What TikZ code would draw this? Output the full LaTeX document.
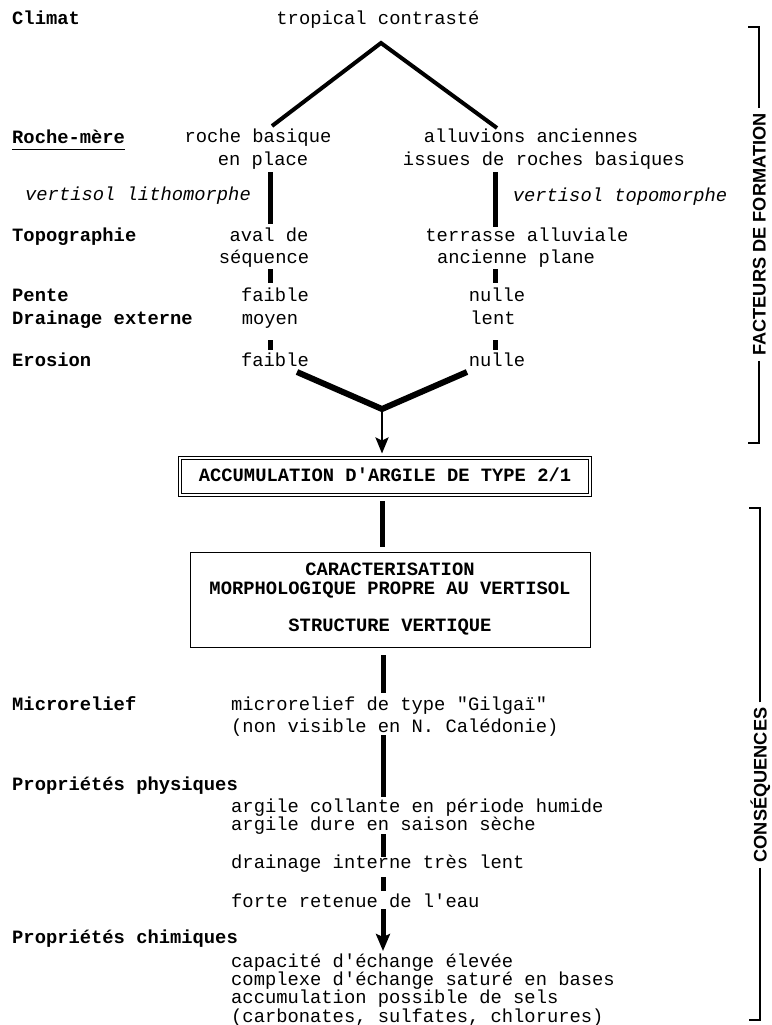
\documentclass[tikz,border=0pt]{standalone}
\usepackage{fontspec}
\setmonofont{Liberation Mono}
\newfontfamily\brkfont{Liberation Sans}
\usetikzlibrary{arrows.meta}
\begin{document}
\begin{tikzpicture}[x=1pt,y=-1pt,
  txt/.style={inner sep=0pt, text height=10pt, text depth=0pt,
    font=\ttfamily\fontsize{18.8}{19}\selectfont},
  ital/.style={txt, font=\ttfamily\itshape\fontsize{18.8}{19}\selectfont},
  lbl/.style={txt, anchor=west, font=\ttfamily\bfseries\fontsize{18.8}{19}\selectfont},
  btxt/.style={txt, anchor=west},
  lam/.style={line width=4pt},
  vee/.style={line width=6pt},
  bar/.style={line width=5pt},
  brkline/.style={line width=2pt},
  brk/.style={inner xsep=5pt, inner ysep=0pt, text height=13pt, text depth=0pt,
    font=\brkfont\bfseries\fontsize{18.2}{19}\selectfont, rotate=90},
  boxfont/.style={font=\ttfamily\bfseries\fontsize{18.8}{19}\selectfont}
]
\fill[white] (0,0) rectangle (771,1025);
\useasboundingbox (0,0) rectangle (771,1025);

% ---------- left labels ----------
\node[lbl] (climat) at (12,20) {Climat};
\node[lbl] (roche) at (12,138) {Roche-mère};
\draw[line width=1.3pt] ([yshift=-6pt]roche.south west) -- ([yshift=-6pt]roche.south east);
\node[lbl] (topo) at (12,236) {Topographie};
\node[lbl] (pente) at (12,296) {Pente};
\node[lbl] (drain) at (12,319) {Drainage externe};
\node[lbl] (eros) at (12,361) {Erosion};

% ---------- top ----------
\node[txt] (trop) at (378,20) {tropical contrasté};
\coordinate (apex) at (381,43);
\coordinate (lfoot) at (272,126);
\coordinate (rfoot) at (497,128);
\draw[lam] (lfoot) -- (apex) -- (rfoot);

% left column
\node[txt] (rb) at (258,137) {roche basique};
\node[txt] (ep) at (263,160) {en place};
\node[ital] (vl) at (138,195) {vertisol lithomorphe};
\node[txt] (aval) at (269,236) {aval de};
\node[txt] (seq) at (264,258) {séquence};
\node[txt] (f1) at (275,296) {faible};
\node[txt] (moyen) at (270,319) {moyen};
\node[txt] (f2) at (275,361) {faible};

% right column
\node[txt] (allu) at (531,137) {alluvions anciennes};
\node[txt] (iss) at (544,160) {issues de roches basiques};
\node[ital] (vt) at (620,196) {vertisol topomorphe};
\node[txt] (terr) at (527,236) {terrasse alluviale};
\node[txt] (anc) at (516,258) {ancienne plane};
\node[txt] (n1) at (497,296) {nulle};
\node[txt] (lent) at (493,319) {lent};
\node[txt] (n2) at (497,361) {nulle};

% bars
\coordinate (la1) at (270,172); \coordinate (lb1) at (270,224);
\coordinate (la2) at (270,269); \coordinate (lb2) at (270,283);
\coordinate (la3) at (270,340); \coordinate (lb3) at (270,350);
\coordinate (ra1) at (495,172); \coordinate (rb1) at (495,227);
\coordinate (ra2) at (495,269); \coordinate (rb2) at (495,283);
\coordinate (ra3) at (495,340); \coordinate (rb3) at (495,350);
\draw[bar] (la1) -- (lb1);
\draw[bar] (la2) -- (lb2);
\draw[bar] (la3) -- (lb3);
\draw[bar] (ra1) -- (rb1);
\draw[bar] (ra2) -- (rb2);
\draw[bar] (ra3) -- (rb3);

% V and arrow
\coordinate (vleft) at (297,372);
\coordinate (vbot) at (382,409);
\coordinate (vright) at (467,372);
\draw[vee] (vleft) -- (vbot) -- (vright);

% boxes
\node[draw, double, double distance=2pt, line width=1pt, minimum width=410pt,
  minimum height=37pt, inner sep=0pt, text height=10pt, text depth=0pt, boxfont]
  (box1) at (385,476.5) {ACCUMULATION D'ARGILE DE TYPE 2/1};
\draw[line width=2.5pt, shorten >=4pt, -{Stealth[length=16pt,width=13pt,inset=3pt]}]
  (vbot) -- (vbot |- box1.north);

\node[draw, line width=1pt, minimum width=400pt, minimum height=95pt,
  inner sep=0pt, align=center, boxfont]
  (box2) at (390,599.5) {CARACTERISATION\\MORPHOLOGIQUE PROPRE AU VERTISOL\\[18pt]STRUCTURE VERTIQUE};

\coordinate (k1) at (382,501); \coordinate (k2) at (382,547);
\draw[bar] (k1) -- (k2);
\coordinate (k3) at (383,655); \coordinate (k4) at (383,693);
\draw[bar] (k3) -- (k4);

% ---------- bottom ----------
\node[lbl] (micro) at (12,705) {Microrelief};
\node[btxt] (m1) at (231,705) {microrelief de type "Gilgaï"};
\node[btxt] (m2) at (231,727) {(non visible en N. Calédonie)};
\node[lbl] (pp) at (12,785) {Propriétés physiques};
\node[btxt] (p1) at (231,807) {argile collante en période humide};
\node[btxt] (p2) at (231,825) {argile dure en saison sèche};
\node[btxt] (p3) at (231,863) {drainage interne très lent};
\node[btxt] (p4) at (231,902) {forte retenue de l'eau};
\node[lbl] (pc) at (12,938) {Propriétés chimiques};
\node[btxt] (c1) at (231,962) {capacité d'échange élevée};
\node[btxt] (c2) at (231,980) {complexe d'échange saturé en bases};
\node[btxt] (c3) at (231,998) {accumulation possible de sels};
\node[btxt] (c4) at (231,1017) {(carbonates, sulfates, chlorures)};

\coordinate (k5) at (383,735); \coordinate (k6) at (383,797);
\draw[bar] (k5) -- (k6);
\coordinate (k7) at (383,834); \coordinate (k8) at (383,857);
\draw[bar] (k7) -- (k8);
\coordinate (k9) at (383,877); \coordinate (k10) at (383,891);
\draw[bar] (k9) -- (k10);
\coordinate (k11) at (383,909); \coordinate (k12) at (383,951);
\draw[bar, -{Stealth[length=17pt,width=14pt,inset=3pt]}] (k11) -- (k12);

% ---------- brackets ----------
\node[brk] (fac) at (759,234.5) {FACTEURS DE FORMATION};
\coordinate (ft) at (748,27);
\coordinate (fb) at (748,443);
\draw[brkline] (fac.east) -- (fac.east |- ft) -- (ft);
\draw[brkline] (fac.west) -- (fac.west |- fb) -- (fb);

\node[brk] (cons) at (760,785) {CONSÉQUENCES};
\coordinate (ct) at (749,508);
\coordinate (cb) at (749,1020);
\draw[brkline] (cons.east) -- (cons.east |- ct) -- (ct);
\draw[brkline] (cons.west) -- (cons.west |- cb) -- (cb);
\end{tikzpicture}
\end{document}
